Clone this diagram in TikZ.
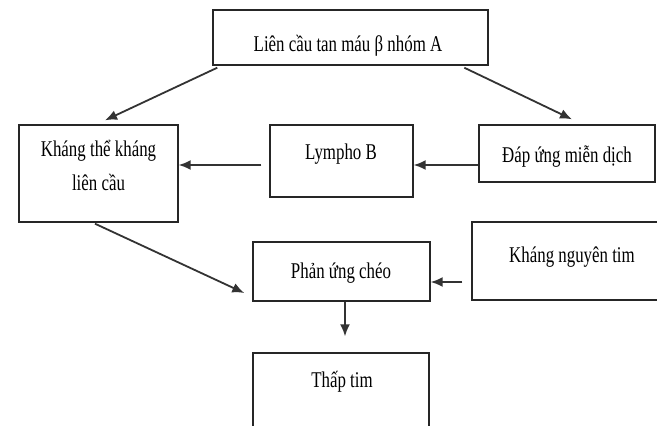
\documentclass[tikz,border=0pt]{standalone}
\usepackage{fontspec}
\setmainfont{Liberation Serif}[FakeStretch=0.75]
\usetikzlibrary{arrows.meta,calc}
\begin{document}
\begin{tikzpicture}[x=1pt,y=-1pt,
  box/.style={draw=black!85,line width=1.4pt,inner sep=0pt},
  txt/.style={anchor=base,inner sep=0pt,font=\fontsize{22.5}{34}\selectfont,align=center},
  arr/.style={draw=black!80,line width=1.8pt,-{Latex[length=12pt,width=10pt]}}]
\useasboundingbox (0,0) rectangle (657,426);
\begin{scope}
\clip (0,0) rectangle (657,426);
\node[box,minimum width=275pt,minimum height=55pt] (top) at (350.5,37.5) {};
\node[box,minimum width=159pt,minimum height=97pt] (kt) at (98.5,173.5) {};
\node[box,minimum width=143pt,minimum height=72pt] (ly) at (341.5,161) {};
\node[box,minimum width=176pt,minimum height=57pt] (da) at (567,153.5) {};
\node[box,minimum width=177pt,minimum height=59pt] (pu) at (341.5,271.5) {};
\node[box,minimum width=208pt,minimum height=78pt] (kn) at (576,261) {};
\node[box,minimum width=176pt,minimum height=97pt] (tt) at (341,401.5) {};

\node[txt] (t1) at (348,51) {Liên cầu tan máu β nhóm A};
\node[txt,anchor=north] (t2) at (98.5,140) {Kháng thể kháng\\liên cầu};
\node[txt] (t3) at (341,159) {Lympho B};
\node[txt] (t4) at (567,162) {Đáp ứng miễn dịch};
\node[txt] (t5) at (341,278) {Phản ứng chéo};
\node[txt] (t6) at (572,262) {Kháng nguyên tim};
\node[txt] (t7) at (342,387) {Thấp tim};
\end{scope}

\draw[arr] ($(top.south west)+(5,2)$) -- ($(kt.north)+(6.5,-4)$);
\draw[arr] ($(top.south west)+(252,2)$) -- ($(da.north)+(5,-5)$);
\draw[arr] ($(da.west)+(0,11.5)$) -- ($(ly.east)+(0,4)$);
\draw[arr] ($(ly.west)+(-8,4)$) -- ($(kt.east)+(0,-8.5)$);
\draw[arr] ($(kt.south)+(-3.5,1)$) -- ($(pu.west)+(-8,21.5)$);
\draw[arr] ($(kn.west)+(-9,21)$) -- ($(pu.east)+(0,10.5)$);
\draw[arr] ($(pu.south)+(3.5,0)$) -- ($(tt.north)+(4,-16)$);
\end{tikzpicture}
\end{document}
